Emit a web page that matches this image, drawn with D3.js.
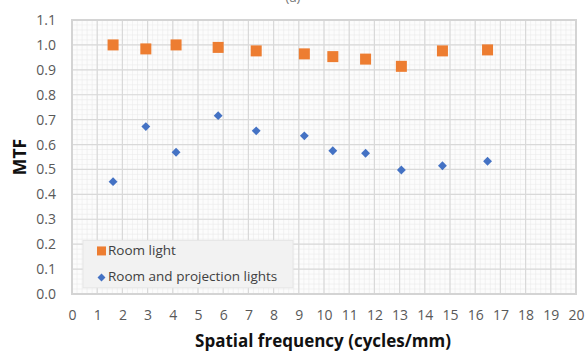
<!DOCTYPE html>
<html>
<head>
<meta charset="utf-8">
<script src="https://cdn.jsdelivr.net/npm/d3@7"></script>
<style>
  body { margin: 0; background: #fff; }
  svg { display: block; font-family: "Open Sans", "Liberation Sans", sans-serif; }
</style>
</head>
<body>
<div id="chart"></div>
<script>
// data
const freq = [1.63, 2.93, 4.13, 5.8, 7.31, 9.22, 10.35, 11.65, 13.07, 14.7, 16.49]
const roomLight = [1.0, 0.984, 1.0, 0.99, 0.976, 0.964, 0.953, 0.943, 0.914, 0.976, 0.98]
const roomProjection = [0.451, 0.672, 0.569, 0.716, 0.655, 0.635, 0.575, 0.565, 0.498, 0.515, 0.533]
const xTicks = d3.range(0, 21)
const yTicks = d3.range(0, 12).map(d => d / 10)
const seriesNames = ["Room light", "Room and projection lights"]

const width = 587
const height = 354
const margin = { top: 20, right: 11, bottom: 60, left: 72 }

const svg = d3.select("#chart")
    .append("svg")
    .attr("width", width)
    .attr("height", height)

// panel label, cut by the top edge like in the source
svg.append("text")
    .attr("x", 293).attr("y", 2)
    .attr("text-anchor", "middle")
    .attr("font-size", 13)
    .attr("fill", "#777")
    .text("(a)")

const g = svg.append("g").attr("transform", `translate(${margin.left},${margin.top})`)
const w = width - margin.left - margin.right
const h = height - margin.top - margin.bottom

const x = d3.scaleLinear().domain([0, 20]).range([0, w])
const y = d3.scaleLinear().domain([0, 1.1]).range([h, 0])

//plot background
g.append("rect").attr("width", w).attr("height", h).attr("fill", "#fcfcfc")

//minor grid
const xMinor = d3.range(0, 20.01, 0.2)
const yMinor = d3.range(0, 1.101, 0.02)
g.append("g").selectAll("line").data(xMinor).join("line")
    .attr("x1", d => x(d)).attr("x2", d => x(d)).attr("y1", 0).attr("y2", h)
    .attr("stroke", "#ebebeb").attr("stroke-width", 0.6)
g.append("g").selectAll("line").data(yMinor).join("line")
    .attr("y1", d => y(d)).attr("y2", d => y(d)).attr("x1", 0).attr("x2", w)
    .attr("stroke", "#ebebeb").attr("stroke-width", 0.6)

//major grid
g.append("g").selectAll("line").data(xTicks).join("line")
    .attr("x1", d => x(d)).attr("x2", d => x(d)).attr("y1", 0).attr("y2", h)
    .attr("stroke", "#d9d9d9").attr("stroke-width", 1.2)
g.append("g").selectAll("line").data(yTicks).join("line")
    .attr("y1", d => y(d)).attr("y2", d => y(d)).attr("x1", 0).attr("x2", w)
    .attr("stroke", "#d9d9d9").attr("stroke-width", 1.2)

//border
g.append("rect").attr("width", w).attr("height", h)
    .attr("fill", "none").attr("stroke", "#d4d4d4").attr("stroke-width", 2)

//axes (labels only)
const xAxis = g.append("g")
    .attr("transform", `translate(0,${h})`)
    .call(d3.axisBottom(x).tickValues(xTicks).tickSize(0).tickPadding(16).tickFormat(d3.format("d")))
xAxis.select(".domain").remove()
xAxis.selectAll("text").attr("font-size", 14).attr("fill", "#595959")
    .attr("font-family", "Open Sans, sans-serif")

const yAxis = g.append("g")
    .call(d3.axisLeft(y).tickValues(yTicks).tickSize(0).tickPadding(16).tickFormat(d3.format(".1f")))
yAxis.select(".domain").remove()
yAxis.selectAll("text").attr("font-size", 14).attr("fill", "#595959")
    .attr("font-family", "Open Sans, sans-serif")

//axis titles
svg.append("text")
    .attr("x", margin.left + w / 2 - 1).attr("y", 347)
    .attr("text-anchor", "middle")
    .attr("font-size", 17).attr("font-weight", "bold").attr("fill", "#111")
    .text("Spatial frequency (cycles/mm)")

svg.append("text")
    .attr("transform", `translate(26,${margin.top + h / 2}) rotate(-90)`)
    .attr("text-anchor", "middle")
    .attr("font-size", 17.5).attr("font-weight", "bold").attr("fill", "#111")
    .text("MTF")

//legend
const legend = g.append("g").attr("transform", `translate(11,${y(0.215)})`)
legend.append("rect")
    .attr("width", 210).attr("height", y(0.025) - y(0.215))
    .attr("fill", "#f2f2f2").attr("stroke", "#e6e6e6")
legend.append("rect").attr("x", 14).attr("y", 6).attr("width", 9).attr("height", 9).attr("fill", "#ed7d31")
legend.append("path").attr("d", d3.symbol(d3.symbolDiamond2, 40)())
    .attr("transform", "translate(18.5,37)").attr("fill", "#4472c4")
legend.selectAll("text.leg").data(seriesNames).join("text")
    .attr("class", "leg")
    .attr("x", 25).attr("y", (d, i) => 15 + i * 26)
    .attr("font-size", 13.5).attr("fill", "#404040")
    .text(d => d)

//series
const sq = 11
g.append("g").selectAll("rect").data(freq).join("rect")
    .attr("x", (d, i) => x(d) - sq / 2)
    .attr("y", (d, i) => y(roomLight[i]) - sq / 2)
    .attr("width", sq).attr("height", sq)
    .attr("fill", "#ed7d31")

g.append("g").selectAll("path").data(freq).join("path")
    .attr("d", d3.symbol(d3.symbolDiamond2, 50)())
    .attr("transform", (d, i) => `translate(${x(d)},${y(roomProjection[i])})`)
    .attr("fill", "#4472c4")
</script>
</body>
</html>
